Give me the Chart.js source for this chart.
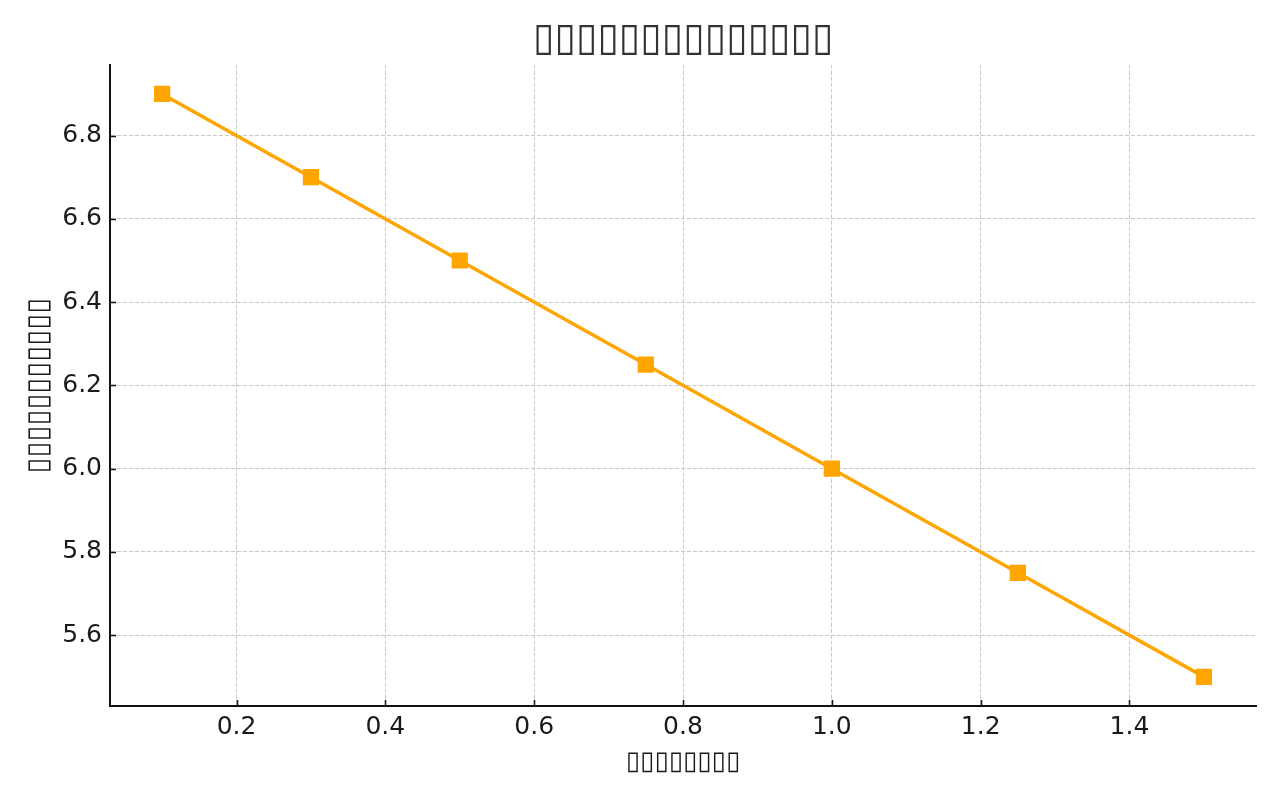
<!DOCTYPE html>
<html>
<head>
<meta charset="utf-8">
<script src="https://cdn.jsdelivr.net/npm/chart.js"></script>
<style>
  html, body { margin: 0; padding: 0; background: #fff; }
  #chart { display: block; }
</style>
</head>
<body>
<canvas id="chart" width="1280" height="800"></canvas>
<script>
// The reference shows missing-glyph boxes for its labels, so they are kept as boxes
const titleText = '▯'.repeat(14);
const xLabel = '▯'.repeat(8);
const yLabel = '▯'.repeat(11);

const xValues = [0.1, 0.3, 0.5, 0.75, 1.0, 1.25, 1.5];
const yValues = [6.9, 6.7, 6.5, 6.25, 6.0, 5.75, 5.5];

const xTicks = [0.2, 0.4, 0.6, 0.8, 1.0, 1.2, 1.4];
const yTicks = [5.6, 5.8, 6.0, 6.2, 6.4, 6.6, 6.8];

const font = '"DejaVu Sans", sans-serif';
const textColor = '#1a1a1a';

const points = xValues.map((x, i) => ({ x, y: yValues[i] }));

// matplotlib style ticks: short marks pointing into the plot
const innerTicks = {
  id: 'innerTicks',
  afterLayout(chart) {
    // center the title over the plot area, not the whole canvas
    if (chart.titleBlock) {
      chart.titleBlock.left = chart.chartArea.left;
      chart.titleBlock.right = chart.chartArea.right;
    }
  },
  afterDatasetsDraw(chart) {
    const { ctx, chartArea, scales } = chart;
    ctx.save();
    ctx.strokeStyle = '#111';
    ctx.lineWidth = 1.5;
    ctx.beginPath();
    xTicks.forEach(v => {
      const px = Math.round(scales.x.getPixelForValue(v)) + 0.5;
      ctx.moveTo(px, chartArea.bottom);
      ctx.lineTo(px, chartArea.bottom - 6);
    });
    yTicks.forEach(v => {
      const py = Math.round(scales.y.getPixelForValue(v)) + 0.5;
      ctx.moveTo(chartArea.left, py);
      ctx.lineTo(chartArea.left + 6, py);
    });
    ctx.stroke();
    ctx.restore();
  }
};

new Chart(document.getElementById('chart').getContext('2d'), {
  type: 'scatter',
  data: {
    datasets: [{
      data: points,
      showLine: true,
      borderColor: '#FFA500',
      backgroundColor: '#FFA500',
      borderWidth: 3.5,
      pointStyle: 'rect',
      pointRadius: 9,
      pointHoverRadius: 9
    }]
  },
  options: {
    responsive: false,
    animation: false,
    layout: { padding: { left: 0, right: 24, top: 0, bottom: 0 } },
    plugins: {
      legend: { display: false },
      tooltip: { enabled: false },
      title: {
        display: true,
        text: titleText,
        color: '#333',
        font: { family: font, size: 39, weight: 'normal', lineHeight: 1.2 },
        padding: { top: 16, bottom: 2 }
      }
    },
    scales: {
      x: {
        type: 'linear',
        min: 0.03,
        max: 1.57,
        afterBuildTicks: (scale) => { scale.ticks = xTicks.map(v => ({ value: v })); },
        afterFit: (scale) => { scale.height = 94; },
        ticks: {
          color: textColor,
          font: { family: font, size: 25 },
          padding: 6,
          callback: (v) => v.toFixed(1)
        },
        grid: {
          color: '#c8c8c8',
          lineWidth: 1,
          drawTicks: false
        },
        border: { color: '#111', width: 2, dash: [4, 2] },
        title: {
          display: true,
          text: xLabel,
          color: textColor,
          font: { family: font, size: 26 },
          padding: { top: 0, bottom: 22 }
        }
      },
      y: {
        type: 'linear',
        min: 5.43,
        max: 6.97,
        afterBuildTicks: (scale) => { scale.ticks = yTicks.map(v => ({ value: v })); },
        afterFit: (scale) => { scale.width = 110; },
        ticks: {
          color: textColor,
          font: { family: font, size: 25 },
          padding: 8,
          callback: (v) => v.toFixed(1)
        },
        grid: {
          color: '#c8c8c8',
          lineWidth: 1,
          drawTicks: false
        },
        border: { color: '#111', width: 2, dash: [4, 2] },
        title: {
          display: true,
          text: yLabel,
          color: textColor,
          font: { family: font, size: 29 },
          padding: { top: 22, bottom: 0 }
        }
      }
    }
  },
  plugins: [innerTicks]
});
</script>
</body>
</html>
